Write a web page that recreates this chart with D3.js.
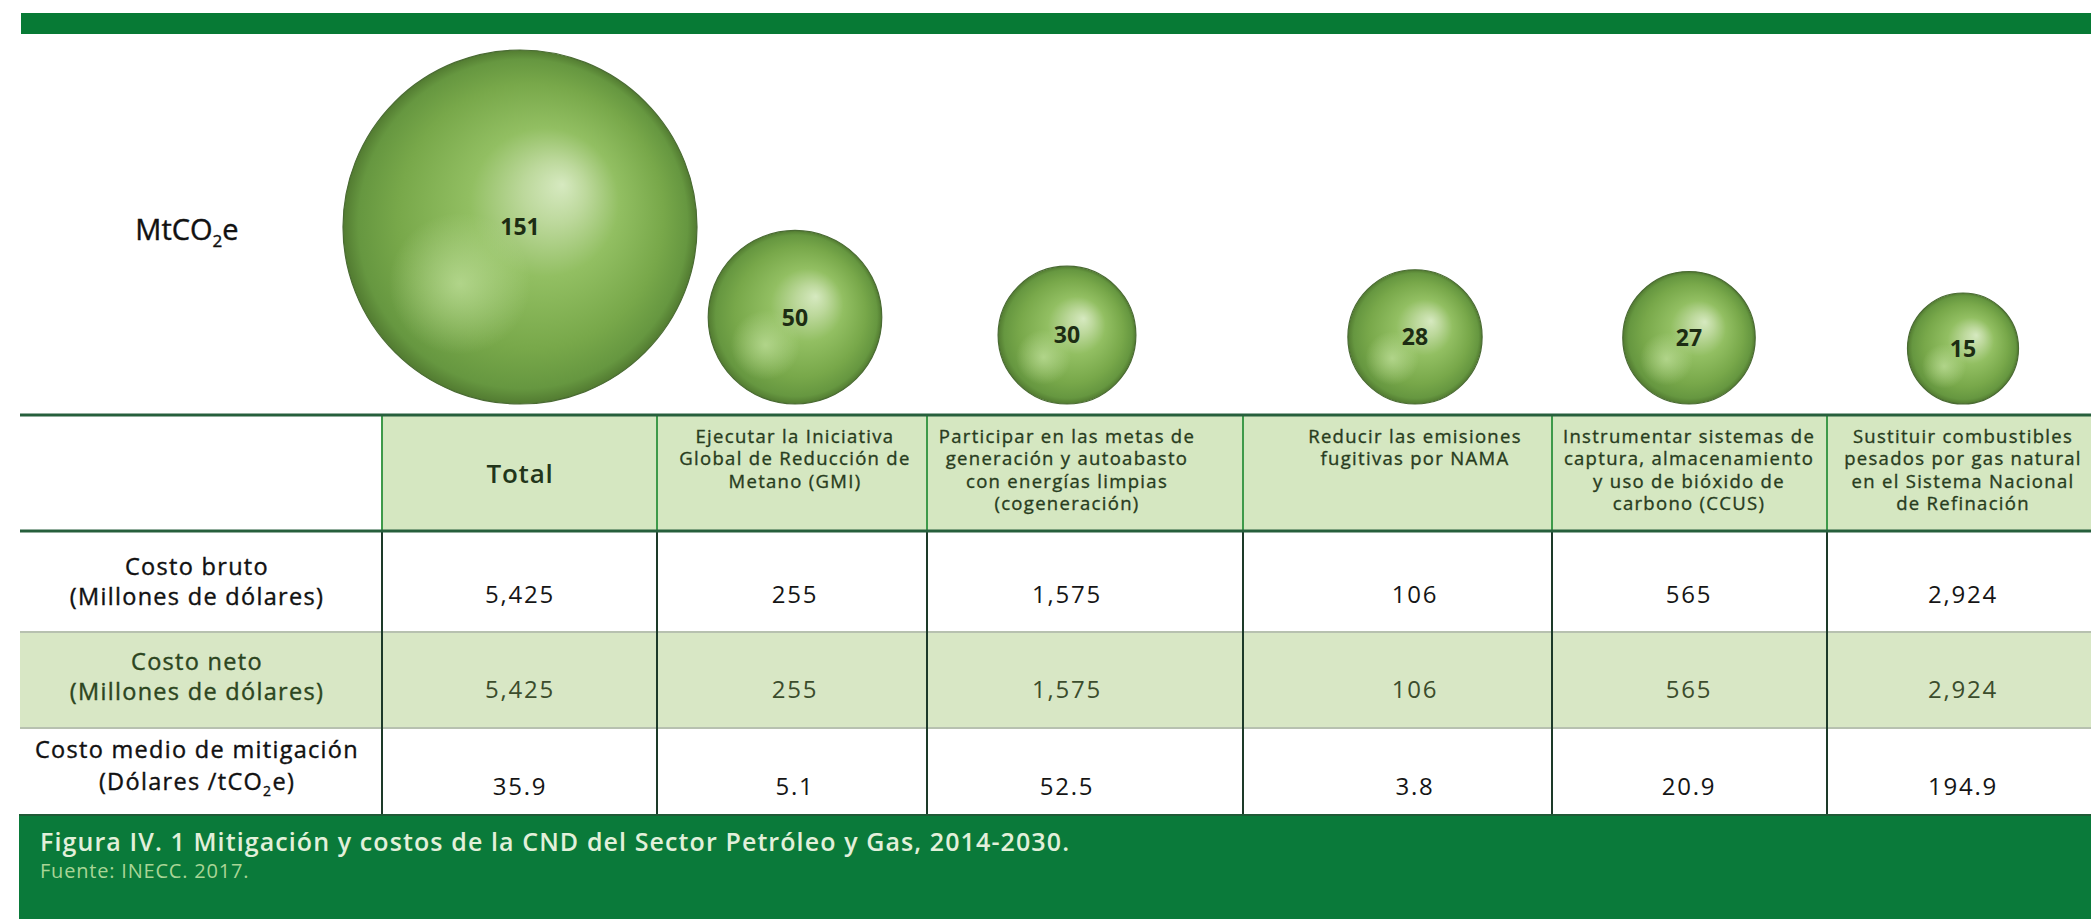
<!DOCTYPE html>
<html lang="es">
<head>
<meta charset="utf-8">
<title>Mitigación y costos de la CND del Sector Petróleo y Gas, 2014-2030</title>
<script src="https://cdn.jsdelivr.net/npm/d3@7"></script>
<style>
  html, body { margin: 0; padding: 0; background: #ffffff; }
  svg { display: block; font-family: "Open Sans", "Noto Sans", sans-serif; }
</style>
</head>
<body>
<svg id="chart" width="2091" height="919"></svg>
<script>
// ---- Data ----------------------------------------------------------------
const categories = [
  "Total",
  "Ejecutar la Iniciativa\nGlobal de Reducción de\nMetano (GMI)",
  "Participar en las metas de\ngeneración y autoabasto\ncon energías limpias\n(cogeneración)",
  "Reducir las emisiones\nfugitivas por NAMA",
  "Instrumentar sistemas de\ncaptura, almacenamiento\ny uso de bióxido de\ncarbono (CCUS)",
  "Sustituir combustibles\npesados por gas natural\nen el Sistema Nacional\nde Refinación"
];
const mitigation = [151, 50, 30, 28, 27, 15];            // MtCO2e
const grossCost  = [5425, 255, 1575, 106, 565, 2924];     // millones de dólares
const netCost    = [5425, 255, 1575, 106, 565, 2924];     // millones de dólares
const avgCost    = [35.9, 5.1, 52.5, 3.8, 20.9, 194.9];   // dólares / tCO2e

const rowLabels = [
  ["Costo bruto", "(Millones de dólares)"],
  ["Costo neto", "(Millones de dólares)"],
  ["Costo medio de mitigación", "(Dólares /tCO₂e)"]
];
const title  = "Figura IV. 1 Mitigación y costos de la CND del Sector Petróleo y Gas, 2014-2030.";
const source = "Fuente: INECC. 2017.";

// ---- Layout --------------------------------------------------------------
const W = 2091, H = 919;
const colEdges   = [20, 382, 657, 927, 1243, 1552, 1827, W];
const colCenters = [520, 795, 1067, 1415, 1689, 1963];
const labelX = 197;
const tableTop = 415, headerBottom = 531;
const rowEdges = [531, 632, 728, 815];
const bubbleBase = 404;

const svg = d3.select("#chart");

const defs = svg.append("defs");
const g1 = defs.append("radialGradient").attr("id", "sphere")
  .attr("cx", 0.5).attr("cy", 0.5).attr("r", 0.5).attr("fx", 0.62).attr("fy", 0.38);
[[0, "#d6e9c0"], [0.18, "#bcd89b"], [0.42, "#92bf62"], [0.75, "#78a84a"], [0.93, "#669740"], [1, "#527b31"]]
  .forEach(([o, c]) => g1.append("stop").attr("offset", o).attr("stop-color", c));
const g2 = defs.append("radialGradient").attr("id", "glow")
  .attr("cx", 0.33).attr("cy", 0.66).attr("r", 0.2);
g2.append("stop").attr("offset", 0).attr("stop-color", "#c4e3a0").attr("stop-opacity", 0.7);
g2.append("stop").attr("offset", 1).attr("stop-color", "#c4e3a0").attr("stop-opacity", 0);

// ---- Scales --------------------------------------------------------------
const x = d3.scaleOrdinal().domain(categories).range(colCenters);
const r = d3.scaleLinear().domain(d3.extent(mitigation)).range([55.5, 177]);

// ---- Top band ------------------------------------------------------------
svg.append("rect").attr("x", 21).attr("y", 13).attr("width", W - 21).attr("height", 21)
  .attr("fill", "#077a35");

// ---- Bubbles -------------------------------------------------------------
const bub = svg.append("g").selectAll("g").data(categories).join("g")
  .attr("transform", (d, i) => `translate(${x(d)},${bubbleBase - r(mitigation[i])})`);
bub.append("circle").attr("r", (d, i) => r(mitigation[i]))
  .attr("fill", "url(#sphere)").attr("stroke", "#4a6b33").attr("stroke-width", 1.2);
bub.append("circle").attr("r", (d, i) => r(mitigation[i])).attr("fill", "url(#glow)");
bub.append("text").text((d, i) => mitigation[i])
  .attr("text-anchor", "middle").attr("dy", "0.36em")
  .attr("font-size", 23).attr("font-weight", 700).attr("fill", "#1d2d13");

// unit label
const unit = svg.append("text").attr("x", 187).attr("y", 240)
  .attr("text-anchor", "middle").attr("font-size", 29).attr("fill", "#111")
  .attr("stroke", "#111").attr("stroke-width", 0.4);
unit.append("tspan").text("MtCO");
unit.append("tspan").text("2").attr("font-size", 17).attr("dy", 7);
unit.append("tspan").text("e").attr("dy", -7);

// ---- Table backgrounds ---------------------------------------------------
svg.append("rect").attr("x", colEdges[1]).attr("y", tableTop)
  .attr("width", W - colEdges[1]).attr("height", headerBottom - tableTop).attr("fill", "#d5e7c1");
svg.append("rect").attr("x", 20).attr("y", rowEdges[1])
  .attr("width", W - 20).attr("height", rowEdges[2] - rowEdges[1]).attr("fill", "#d8e7c5");

// row separators
svg.append("g").selectAll("line").data([rowEdges[1], rowEdges[2]]).join("line")
  .attr("x1", 20).attr("x2", W).attr("y1", d => d).attr("y2", d => d)
  .attr("stroke", "#b7c1b0").attr("stroke-width", 2);

// column separators
const inner = colEdges.slice(1, -1);
svg.append("g").selectAll("line").data(inner).join("line")
  .attr("x1", d => d).attr("x2", d => d).attr("y1", tableTop).attr("y2", headerBottom)
  .attr("stroke", "#3e9a4a").attr("stroke-width", 2);
svg.append("g").selectAll("line").data(inner).join("line")
  .attr("x1", d => d).attr("x2", d => d).attr("y1", headerBottom).attr("y2", rowEdges[3])
  .attr("stroke", "#1d3a29").attr("stroke-width", 2);

// horizontal rules
svg.append("g").selectAll("line").data([tableTop, headerBottom]).join("line")
  .attr("x1", 20).attr("x2", W).attr("y1", d => d).attr("y2", d => d)
  .attr("stroke", "#265f3c").attr("stroke-width", 3);

// ---- Header text ---------------------------------------------------------
const head = svg.append("g");
categories.forEach((c, i) => {
  const lines = c.split("\n");
  if (lines.length === 1) {
    head.append("text").attr("x", x(c)).attr("y", 483).attr("text-anchor", "middle")
      .attr("font-size", 26).attr("font-weight", 600).attr("letter-spacing", 0.8)
      .attr("fill", "#22351a").text(c);
  } else {
    const t = head.append("text").attr("text-anchor", "middle")
      .attr("font-size", 18.5).attr("letter-spacing", 1.3)
      .attr("fill", "#283c1d").attr("stroke", "#283c1d").attr("stroke-width", 0.35);
    lines.forEach((l, k) => t.append("tspan").attr("x", x(c)).attr("y", 443 + k * 22.4).text(l));
  }
});

// ---- Row labels and values -----------------------------------------------
const fmtCost = d3.format(",");
const fmtAvg = d3.format(".1f");
const rows = [
  { values: grossCost, fmt: fmtCost, base: 603, color: "#151515", labelColor: "#111" },
  { values: netCost,   fmt: fmtCost, base: 698, color: "#3b4c2c", labelColor: "#2c4520" },
  { values: avgCost,   fmt: fmtAvg,  base: 795, color: "#151515", labelColor: "#111" }
];
const labelBase = [[575, 605], [670, 700], [758, 790]];

rows.forEach((row, ri) => {
  const lab = svg.append("text").attr("text-anchor", "middle")
    .attr("font-size", 23.5).attr("letter-spacing", 1.3)
    .attr("fill", row.labelColor).attr("stroke", row.labelColor).attr("stroke-width", 0.4);
  rowLabels[ri].forEach((l, k) => {
    const ts = lab.append("tspan").attr("x", labelX).attr("y", labelBase[ri][k]);
    if (l.includes("₂")) {
      const [a, b] = l.split("₂");
      ts.text(a);
      lab.append("tspan").text("2").attr("font-size", 14).attr("dy", 6);
      lab.append("tspan").text(b).attr("dy", -6);
    } else {
      ts.text(l);
    }
  });
  svg.append("g").selectAll("text").data(categories).join("text")
    .attr("x", d => x(d)).attr("y", row.base).attr("text-anchor", "middle")
    .attr("font-size", 24).attr("letter-spacing", 1.8).attr("fill", row.color)
    .text((d, i) => row.fmt(row.values[i]));
});

// ---- Caption band --------------------------------------------------------
svg.append("rect").attr("x", 19).attr("y", rowEdges[3]).attr("width", W - 19)
  .attr("height", H - rowEdges[3]).attr("fill", "#0a7a3a");
svg.append("line").attr("x1", 19).attr("x2", W).attr("y1", rowEdges[3]).attr("y2", rowEdges[3])
  .attr("stroke", "#1f5a36").attr("stroke-width", 2);
svg.append("text").attr("x", 40).attr("y", 851).attr("font-size", 25).attr("font-weight", 600)
  .attr("letter-spacing", 1.1).attr("fill", "#e2f0da").text(title);
svg.append("text").attr("x", 40).attr("y", 878).attr("font-size", 20)
  .attr("letter-spacing", 0.8).attr("fill", "#a9d596").text(source);
</script>
</body>
</html>
